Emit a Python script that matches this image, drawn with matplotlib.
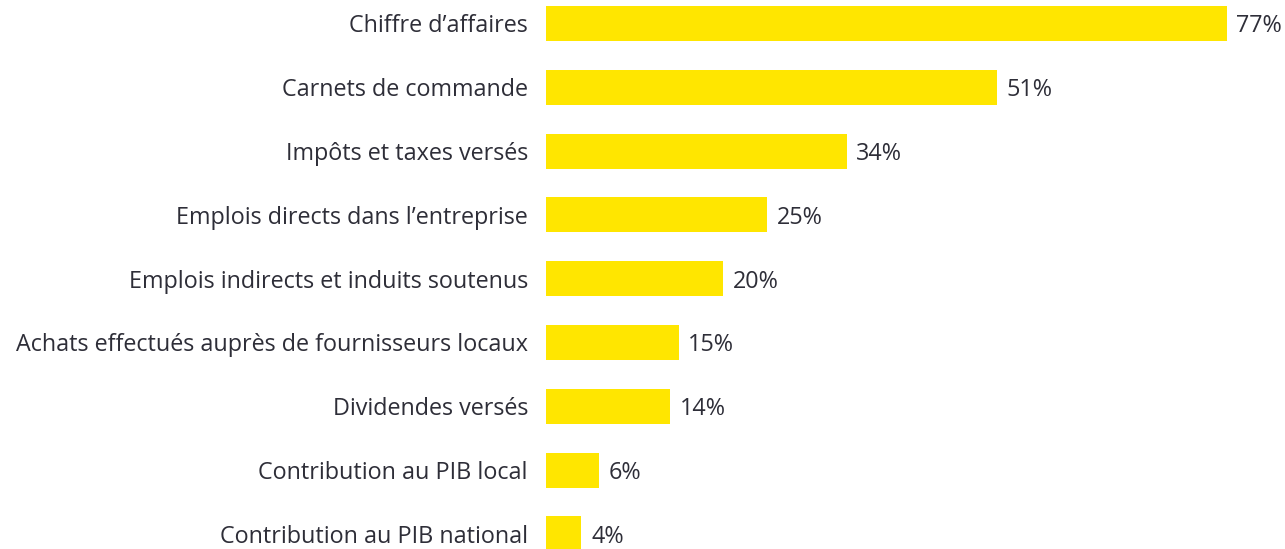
import numpy as np
import matplotlib.pyplot as plt

# dati
categorie = [
    "Chiffre d\u2019affaires",
    "Carnets de commande",
    "Imp\u00f4ts et taxes vers\u00e9s",
    "Emplois directs dans l\u2019entreprise",
    "Emplois indirects et induits soutenus",
    "Achats effectu\u00e9s aupr\u00e8s de fournisseurs locaux",
    "Dividendes vers\u00e9s",
    "Contribution au PIB local",
    "Contribution au PIB national",
]
valori = [77, 51, 34, 25, 20, 15, 14, 6, 4]

giallo = "#FFE600"
testo = "#2e2e38"

plt.rcParams['font.family'] = ['Open Sans', 'DejaVu Sans']

fig = plt.figure(figsize=(12.85, 5.49), dpi=100)
ax = fig.add_axes([546 / 1285, 0, 1 - 546 / 1285, 1])

y = np.arange(len(categorie))
ax.barh(y, valori, height=0.55, color=giallo)

for yi, v in zip(y, valori):
    ax.text(v + 1.1, yi, f"{v}%", va='center_baseline', ha='left', fontsize=16.8, color=testo)

ax.set_yticks(y)
ax.set_yticklabels(categorie, fontsize=16.8, color=testo)
ax.tick_params(axis='y', length=0, pad=13)
ax.set_xticks([])
ax.set_xlim(0, 83.6)
ax.set_ylim(8.237, -0.368)
for s in ax.spines.values():
    s.set_visible(False)

fig.savefig("out.png", dpi=100)
